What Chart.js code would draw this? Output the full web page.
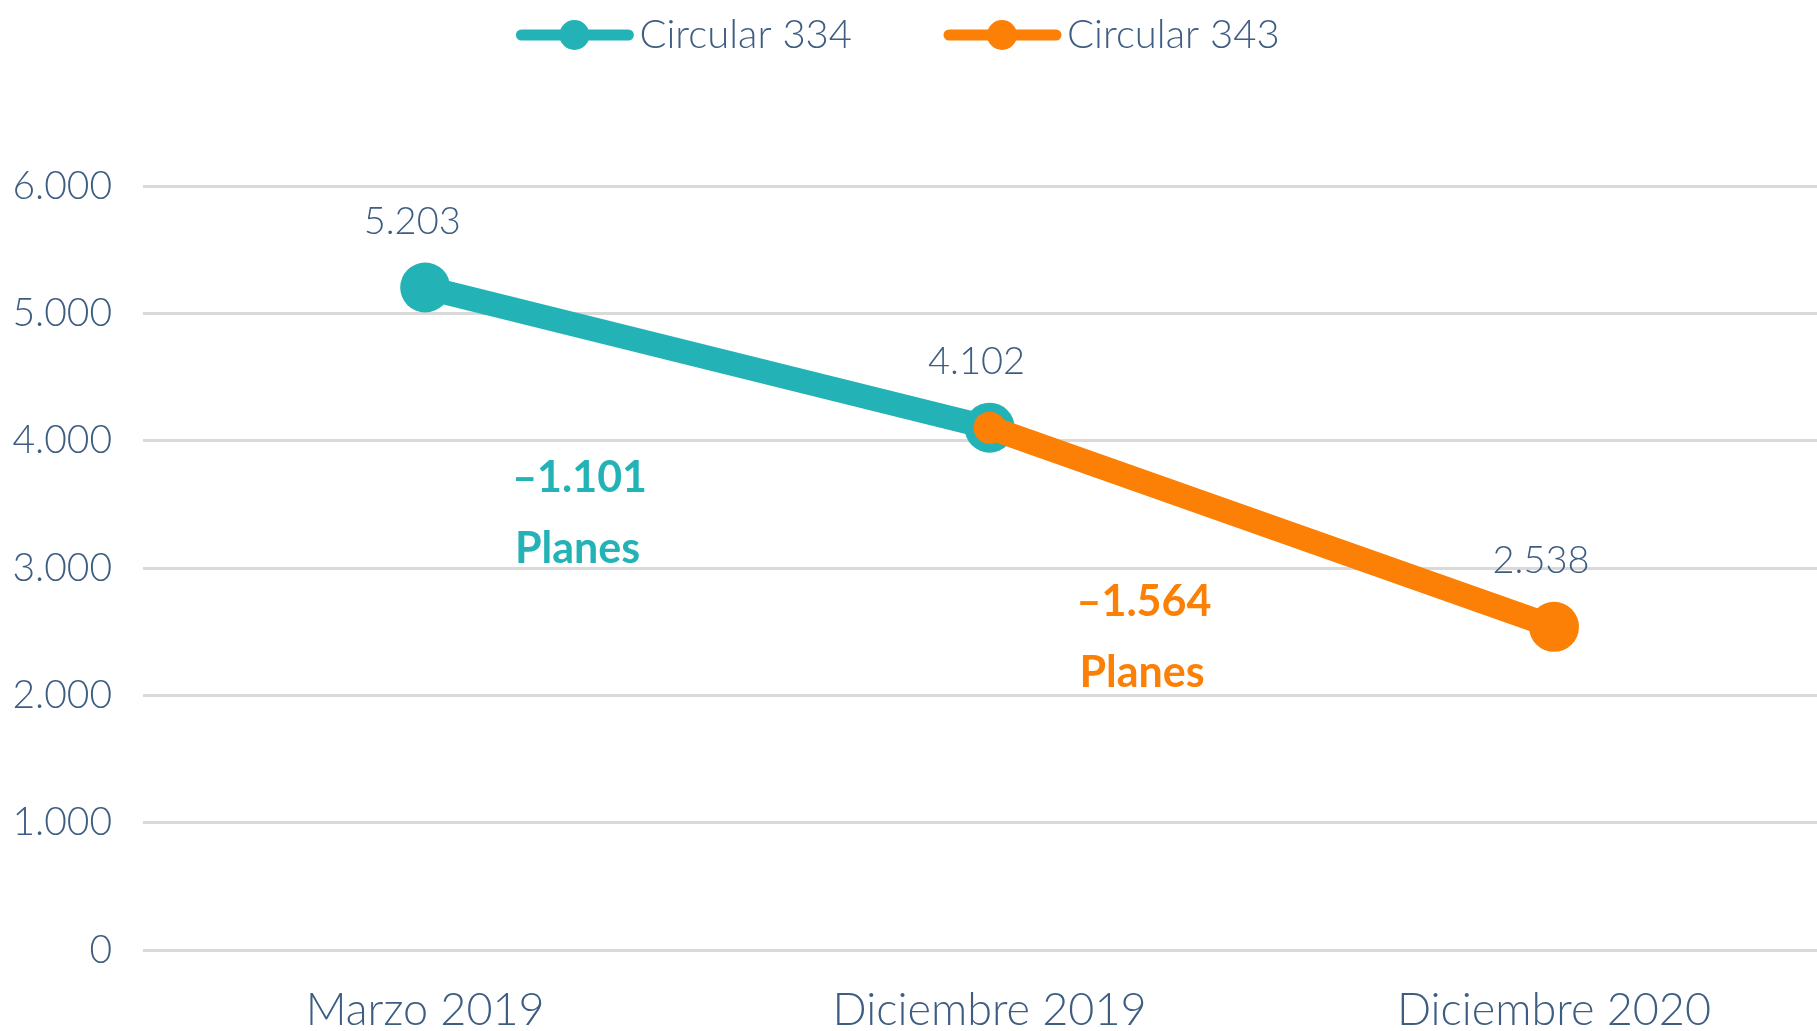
<!DOCTYPE html>
<html>
<head>
<meta charset="utf-8">
<script src="https://cdn.jsdelivr.net/npm/chart.js@4/dist/chart.umd.min.js"></script>
<style>
    html, body { margin: 0; padding: 0; background: #fff; overflow: hidden; }
    #planesChart { display: block; }
</style>
</head>
<body>
<canvas id="planesChart" width="1817" height="1031"></canvas>
<script>
// data
const categories = ['Marzo 2019', 'Diciembre 2019', 'Diciembre 2020'];
const circular334 = [5203, 4102, null];
const circular343 = [null, 4102, 2538];
const seriesNames = ['Circular 334', 'Circular 343'];
const yTicks = [0, 1000, 2000, 3000, 4000, 5000, 6000];

const TEAL = '#23b3b6';
const ORANGE = '#fb8005';
const TEXT = '#3d5d82';
const FONT = 'Lato, "Open Sans", sans-serif';

const fmt = (v) => String(Math.round(v)).replace(/\B(?=(\d{3})+(?!\d))/g, '.');
// categories sit at x = 0, 1, 2; the plot is cut off on the right like the original
const toPoints = (arr) => arr.map((v, i) => ({ x: i, y: v }));

// value labels above each point
const valueLabels = {
    id: 'valueLabels',
    afterDatasetsDraw(chart) {
        const ctx = chart.ctx;
        ctx.save();
        ctx.font = `300 38px ${FONT}`;
        ctx.fillStyle = TEXT;
        ctx.textAlign = 'center';
        ctx.textBaseline = 'middle';
        categories.forEach((c, i) => {
            const dsIndex = circular334[i] !== null ? 0 : 1;
            const pt = chart.getDatasetMeta(dsIndex).data[i];
            const v = chart.data.datasets[dsIndex].data[i].y;
            ctx.fillText(fmt(v), pt.x - 13, pt.y - 66);
        });
        ctx.restore();
    }
};

// "-x Planes" notes between the points
const changeNotes = {
    id: 'changeNotes',
    afterDatasetsDraw(chart) {
        const ctx = chart.ctx;
        const xs = chart.scales.x;
        const ys = chart.scales.y;
        const notes = [
            { from: 0, to: 1, data: circular334, color: TEAL, yv: 3705 },
            { from: 1, to: 2, data: circular343, color: ORANGE, yv: 2730 },
        ];
        ctx.save();
        ctx.font = `bold 43px ${FONT}`;
        ctx.textAlign = 'center';
        ctx.textBaseline = 'middle';
        notes.forEach(n => {
            const x = xs.getPixelForValue(n.from + 0.27);
            const y = ys.getPixelForValue(n.yv);
            const diff = n.data[n.to] - n.data[n.from];
            ctx.fillStyle = n.color;
            ctx.fillText('\u2013' + fmt(Math.abs(diff)), x + 2, y);
            ctx.fillText('Planes', x, y + 71);
        });
        ctx.restore();
    }
};

// legend: thick line with a dot, then the name
const lineLegend = {
    id: 'lineLegend',
    afterDraw(chart) {
        const ctx = chart.ctx;
        const colors = [TEAL, ORANGE];
        ctx.save();
        ctx.font = `300 40px ${FONT}`;
        const widths = seriesNames.map(s => ctx.measureText(s).width);
        const total = 117 * 2 + 6 * 2 + widths[0] + widths[1] + 92;
        let x = 898 - total / 2;
        const y = 35;
        seriesNames.forEach((name, i) => {
            ctx.strokeStyle = colors[i];
            ctx.lineWidth = 11;
            ctx.lineCap = 'round';
            ctx.beginPath();
            ctx.moveTo(x + 5, y);
            ctx.lineTo(x + 112, y);
            ctx.stroke();
            ctx.fillStyle = colors[i];
            ctx.beginPath();
            ctx.arc(x + 58, y, 15, 0, Math.PI * 2);
            ctx.fill();
            ctx.fillStyle = TEXT;
            ctx.textAlign = 'left';
            ctx.textBaseline = 'middle';
            ctx.fillText(name, x + 123, y);
            x += 123 + widths[i] + 92;
        });
        ctx.restore();
    }
};

new Chart(document.getElementById('planesChart'), {
    type: 'line',
    data: {
        datasets: [{
            label: seriesNames[0],
            data: toPoints(circular334),
            borderColor: TEAL,
            backgroundColor: TEAL,
            borderWidth: 24,
            pointRadius: 25,
            pointBorderWidth: 0,
            pointHoverRadius: 25,
            order: 1,
        }, {
            label: seriesNames[1],
            data: toPoints(circular343),
            borderColor: ORANGE,
            backgroundColor: ORANGE,
            borderWidth: 24,
            pointRadius: [0, 16, 25],
            pointBorderWidth: 0,
            pointHoverRadius: [0, 16, 25],
            order: 0,
        }],
    },
    options: {
        responsive: false,
        animation: false,
        devicePixelRatio: 1,
        layout: { autoPadding: false, padding: { top: 186, left: 0, right: 0, bottom: 0 } },
        plugins: {
            legend: { display: false },
            tooltip: { enabled: false },
        },
        scales: {
            x: {
                type: 'linear',
                min: -0.5,
                max: 2.466,
                afterBuildTicks: (scale) => { scale.ticks = categories.map((c, i) => ({ value: i })); },
                afterFit: (scale) => {
                    scale.height = 81;
                    scale.paddingLeft = 0;
                    scale.paddingRight = 0;
                },
                grid: { display: false },
                border: { display: false },
                ticks: {
                    color: TEXT,
                    padding: 30,
                    maxRotation: 0,
                    autoSkip: false,
                    font: { family: FONT, size: 45, weight: 300, lineHeight: 1 },
                    callback: (v) => categories[v],
                },
            },
            y: {
                min: 0,
                max: 6000,
                afterBuildTicks: (scale) => { scale.ticks = yTicks.map(v => ({ value: v })); },
                afterFit: (scale) => { scale.width = 143; },
                grid: { color: '#d9d9d9', lineWidth: 3, drawTicks: false },
                border: { display: false },
                ticks: {
                    color: TEXT,
                    padding: 31,
                    font: { family: FONT, size: 39, weight: 300 },
                    callback: (v) => fmt(v),
                },
            },
        },
    },
    plugins: [valueLabels, changeNotes, lineLegend],
});
</script>
</body>
</html>
